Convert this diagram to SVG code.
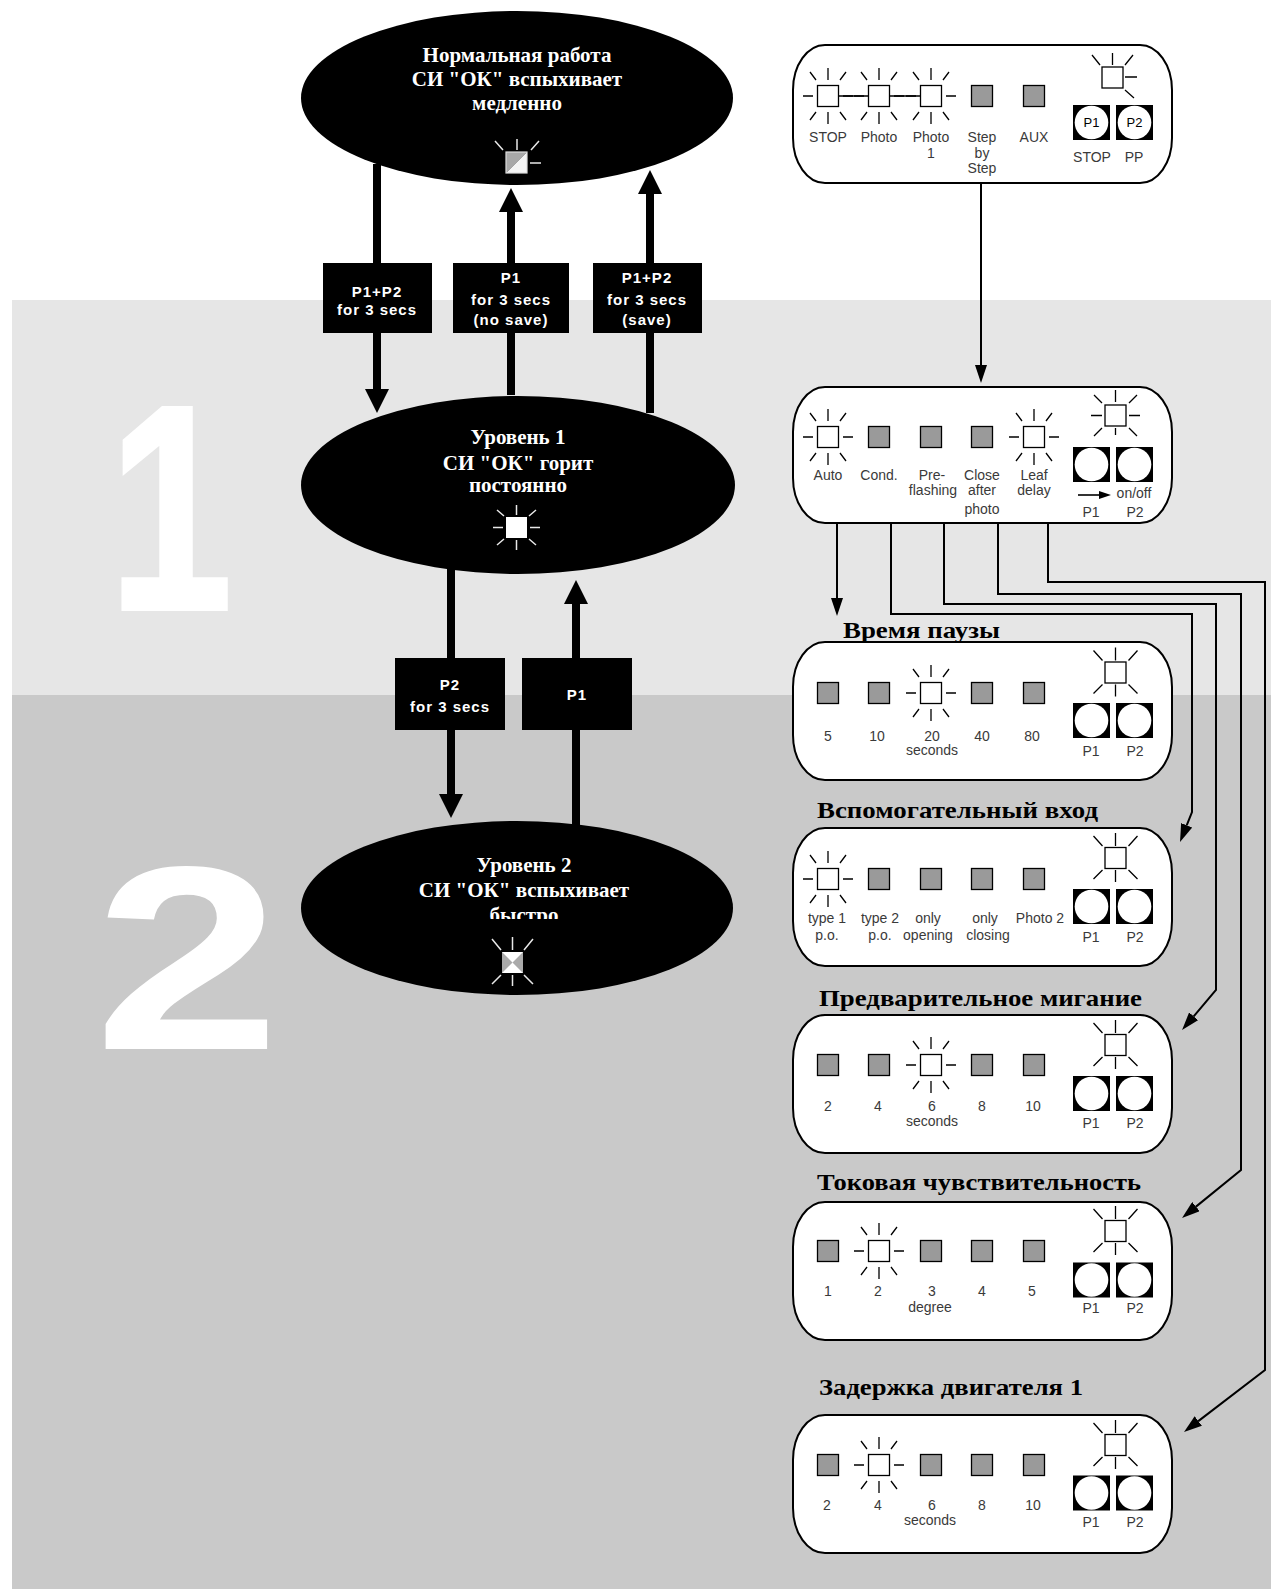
<svg xmlns="http://www.w3.org/2000/svg" width="1271" height="1589" viewBox="0 0 1271 1589">
<style>
.lbl{font-family:"Liberation Sans",Arial,sans-serif;font-size:14px;fill:#3a3a3a;text-anchor:middle}
.ttl{font-family:"Liberation Serif","Times New Roman",serif;font-weight:bold;font-size:23px;fill:#000}
.etx{font-family:"Liberation Serif","Times New Roman",serif;font-weight:bold;font-size:21px;fill:#fff;text-anchor:middle}
.btx{font-family:"Liberation Sans",Arial,sans-serif;font-weight:bold;font-size:15px;fill:#fff;text-anchor:middle;letter-spacing:1px}
.panel{fill:#fff;stroke:#000;stroke-width:2}
.on{fill:#fff;stroke:#000;stroke-width:1.3}
.off{fill:#9a9a9a;stroke:#000;stroke-width:1.3}
.ray{stroke:#000;stroke-width:1.3;fill:none}
.wray{stroke:#e8e8e8;stroke-width:1.5;fill:none}
.big{stroke:#000;stroke-width:8;fill:none}
.thin{stroke:#000;stroke-width:2;fill:none}
.box{fill:#000}
.digit{font-family:"Liberation Sans",Arial,sans-serif;font-weight:bold;fill:#fff}
</style>
<defs>
<marker id="bigHead" viewBox="0 -12 24 24" refX="0" refY="0" markerWidth="24" markerHeight="24" markerUnits="userSpaceOnUse" orient="auto"><path d="M0,-12 L24,0 L0,12 Z" fill="#000"/></marker>
<marker id="smallHead" viewBox="0 -6 18 12" refX="0" refY="0" markerWidth="18" markerHeight="12" markerUnits="userSpaceOnUse" orient="auto"><path d="M0,-6 L18,0 L0,6 Z" fill="#000"/></marker>
<g id="ledOn"><rect class="on" x="-10.5" y="-10.5" width="21" height="21"/><path class="ray" d="M0,-28V-16 M0,16V28 M-25,0H-15 M15,0H25 M-18,-24L-12,-16 M18,-24L12,-16 M-18,24L-12,16 M18,24L12,16"/></g>
<g id="ledOff"><rect class="off" x="-10.5" y="-10.5" width="21" height="21"/></g>
<g id="btn"><rect x="-18.5" y="-17.5" width="37" height="35" fill="#000"/><circle r="16.8" fill="#fff"/></g>
<g id="statX"><rect x="-10.5" y="-10.5" width="21" height="21" fill="#fff"/><path d="M-10.5,-10.5L0,0L-10.5,10.5Z M10.5,-10.5L0,0L10.5,10.5Z" fill="#aaa"/><rect class="on" x="-10.5" y="-10.5" width="21" height="21" fill="none"/><path class="ray" d="M0,-25V-12 M0,12V24 M-22,-22L-13,-12 M22,-22L13,-12 M-22,21L-13,12 M22,21L13,12"/></g>
<g id="panelShape"><rect class="panel" x="793" y="0" width="379" height="138" rx="32" ry="45"/></g>
</defs>

<rect x="0" y="0" width="1271" height="1589" fill="#fff"/>
<rect x="12" y="300" width="1259" height="395" fill="#e6e6e6"/>
<rect x="12" y="695" width="1259" height="894" fill="#c9c9c9"/>
<text class="digit" x="0" y="0" font-size="292" stroke="#fff" stroke-width="4" stroke-linejoin="miter" transform="translate(109,609) scale(0.76,1)">1</text>
<text class="digit" x="0" y="0" font-size="262" transform="translate(94,1049) scale(1.28,1)">2</text>

<g id="connectors">
<path class="big" d="M377,164 V389" marker-end="url(#bigHead)"/>
<path class="big" d="M511,395 V212" marker-end="url(#bigHead)"/>
<path class="big" d="M650,413 V194" marker-end="url(#bigHead)"/>
<path class="big" d="M451,568 V794" marker-end="url(#bigHead)"/>
<path class="big" d="M576,826 V604" marker-end="url(#bigHead)"/>
<path class="thin" d="M981,183 V365" marker-end="url(#smallHead)"/>
<path class="thin" d="M837,524 V598" marker-end="url(#smallHead)"/>
<path class="thin" d="M891,524 V614 H1192 V812 L1186.7,825.3" marker-end="url(#smallHead)"/>
<path class="thin" d="M944,524 V604 H1216 V990 L1193.7,1016.3" marker-end="url(#smallHead)"/>
<path class="thin" d="M998,524 V594 H1241 V1170 L1196,1206.6" marker-end="url(#smallHead)"/>
<path class="thin" d="M1048,524 V582 H1265 V1370 L1198.3,1421.1" marker-end="url(#smallHead)"/>
</g>

<g id="label-p1p2-3s">
<rect class="box" x="323" y="263" width="109" height="70"/>
<text class="btx" x="377" y="297">P1+P2</text>
<text class="btx" x="377" y="315">for 3 secs</text>
</g>
<g id="label-p1-nosave">
<rect class="box" x="453" y="263" width="116" height="70"/>
<text class="btx" x="511" y="283">P1</text>
<text class="btx" x="511" y="305">for 3 secs</text>
<text class="btx" x="511" y="325">(no save)</text>
</g>
<g id="label-p1p2-save">
<rect class="box" x="593" y="263" width="109" height="70"/>
<text class="btx" x="647" y="283">P1+P2</text>
<text class="btx" x="647" y="305">for 3 secs</text>
<text class="btx" x="647" y="325">(save)</text>
</g>
<g id="label-p2-3s">
<rect class="box" x="395" y="658" width="110" height="72"/>
<text class="btx" x="450" y="690">P2</text>
<text class="btx" x="450" y="712">for 3 secs</text>
</g>
<g id="label-p1">
<rect class="box" x="522" y="658" width="110" height="72"/>
<text class="btx" x="577" y="700">P1</text>
</g>

<g id="state-normal">
<ellipse cx="517" cy="98" rx="216" ry="87" fill="#000"/>
<text class="etx" x="517" y="62">Нормальная работа</text>
<text class="etx" x="517" y="86">СИ "ОК" вспыхивает</text>
<text class="etx" x="517" y="110">медленно</text>
<path d="M506,152 H527 L506,173 Z" fill="#a8a8a8"/>
<path d="M527,152 V173 H506 Z" fill="#f4f4f4"/>
<rect x="506" y="152" width="21" height="21" fill="none" stroke="#ddd" stroke-width="1.2"/>
<path class="wray" d="M517,139V150 M495,141L503,150 M539,141L531,150 M530,163H541"/>
</g>

<g id="state-level1">
<ellipse cx="518" cy="485" rx="217" ry="89" fill="#000"/>
<text class="etx" x="518" y="444">Уровень 1</text>
<text class="etx" x="518" y="470">СИ "ОК" горит</text>
<text class="etx" x="518" y="492">постоянно</text>
<rect x="506" y="517" width="21" height="21" fill="#fff"/>
<path class="wray" d="M516.5,505V515 M516.5,540V550 M493,527.5H503 M530,527.5H540 M497,510L504,516 M536,510L529,516 M497,545L504,539 M536,545L529,539"/>
</g>

<g id="state-level2">
<clipPath id="cutText"><rect x="300" y="800" width="440" height="119"/></clipPath>
<ellipse cx="517" cy="908" rx="216" ry="87" fill="#000"/>
<text class="etx" x="524" y="872">Уровень 2</text>
<text class="etx" x="524" y="897">СИ "ОК" вспыхивает</text>
<text class="etx" x="524" y="922" clip-path="url(#cutText)">быстро</text>
<rect x="502" y="952" width="21" height="21" fill="#fff"/>
<path d="M502,952L512.5,962.5L502,973Z M523,952L512.5,962.5L523,973Z" fill="#aaa"/>
<path class="wray" d="M512.5,937V950 M512.5,975V986 M492,939L501,950 M533,939L524,950 M492,984L501,975 M533,984L524,975"/>
</g>

<g id="panel-inputs" transform="translate(0,45)">
<use href="#panelShape"/>
<path class="ray" d="M838.5,51H868.5 M889.5,51H920.5"/>
<use href="#ledOn" x="828" y="51"/>
<use href="#ledOn" x="879" y="51"/>
<use href="#ledOn" x="931" y="51"/>
<use href="#ledOff" x="982" y="51"/>
<use href="#ledOff" x="1034" y="51"/>
<text class="lbl" x="828" y="97">STOP</text>
<text class="lbl" x="879" y="97">Photo</text>
<text class="lbl" x="931" y="97">Photo</text>
<text class="lbl" x="931" y="113">1</text>
<text class="lbl" x="982" y="97">Step</text>
<text class="lbl" x="982" y="113">by</text>
<text class="lbl" x="982" y="128">Step</text>
<text class="lbl" x="1034" y="97">AUX</text>
<path d="M1102,22 H1123 L1102,43 Z" fill="#9a9a9a"/>
<rect class="on" x="1102" y="22" width="21" height="21" fill="none"/>
<path class="ray" d="M1112.5,8V20 M1092,10L1100,20 M1133,10L1125,20 M1125,32H1137 M1125,45L1134,53"/>
<use href="#btn" x="1091.5" y="77.5"/>
<use href="#btn" x="1134.5" y="77.5"/>
<text class="lbl" x="1091.5" y="82" style="fill:#000;font-size:13px">P1</text>
<text class="lbl" x="1134.5" y="82" style="fill:#000;font-size:13px">P2</text>
<text class="lbl" x="1092" y="117">STOP</text>
<text class="lbl" x="1134" y="117">PP</text>
</g>

<g id="panel-level1" transform="translate(0,387)">
<rect class="panel" x="793" y="0" width="379" height="136" rx="32" ry="45"/>
<use href="#ledOn" x="828" y="50"/>
<use href="#ledOff" x="879" y="50"/>
<use href="#ledOff" x="931" y="50"/>
<use href="#ledOff" x="982" y="50"/>
<use href="#ledOn" x="1034" y="50"/>
<text class="lbl" x="828" y="93">Auto</text>
<text class="lbl" x="879" y="93">Cond.</text>
<text class="lbl" x="932" y="93">Pre-</text>
<text class="lbl" x="933" y="108">flashing</text>
<text class="lbl" x="982" y="93">Close</text>
<text class="lbl" x="982" y="108">after</text>
<text class="lbl" x="982" y="127">photo</text>
<text class="lbl" x="1034" y="93">Leaf</text>
<text class="lbl" x="1034" y="108">delay</text>
<rect class="on" x="1105" y="18" width="21" height="21"/>
<path class="ray" d="M1115.5,3V15 M1115.5,41V48 M1091,28.5H1102 M1129,28.5H1140 M1094,8L1102,16 M1137,8L1129,16 M1094,49L1102,41 M1137,49L1129,41"/>
<use href="#btn" x="1091.5" y="77.5"/>
<use href="#btn" x="1134.5" y="77.5"/>
<path d="M1078,108H1100" stroke="#000" stroke-width="1.6"/>
<path d="M1099,104L1111,108L1099,112Z" fill="#000"/>
<text class="lbl" x="1134" y="111">on/off</text>
<text class="lbl" x="1091" y="130">P1</text>
<text class="lbl" x="1135" y="130">P2</text>
</g>

<g id="panel-pause">
<text class="ttl" x="843" y="638" textLength="157" lengthAdjust="spacingAndGlyphs">Время паузы</text>
<g transform="translate(0,642)">
<use href="#panelShape"/>
<use href="#ledOff" x="828" y="51"/>
<use href="#ledOff" x="879" y="51"/>
<use href="#ledOn" x="931" y="51"/>
<use href="#ledOff" x="982" y="51"/>
<use href="#ledOff" x="1034" y="51"/>
<text class="lbl" x="828" y="99">5</text>
<text class="lbl" x="877" y="99">10</text>
<text class="lbl" x="932" y="99">20</text>
<text class="lbl" x="982" y="99">40</text>
<text class="lbl" x="1032" y="99">80</text>
<text class="lbl" x="932" y="113">seconds</text>
<use href="#statX" x="1115.5" y="30.5"/>
<use href="#btn" x="1091.5" y="78.5"/>
<use href="#btn" x="1134.5" y="78.5"/>
<text class="lbl" x="1091" y="114">P1</text>
<text class="lbl" x="1135" y="114">P2</text>
</g>
</g>

<g id="panel-aux">
<text class="ttl" x="817" y="818" textLength="281" lengthAdjust="spacingAndGlyphs">Вспомогательный вход</text>
<g transform="translate(0,828)">
<use href="#panelShape"/>
<use href="#ledOn" x="828" y="51"/>
<use href="#ledOff" x="879" y="51"/>
<use href="#ledOff" x="931" y="51"/>
<use href="#ledOff" x="982" y="51"/>
<use href="#ledOff" x="1034" y="51"/>
<text class="lbl" x="827" y="95">type 1</text>
<text class="lbl" x="880" y="95">type 2</text>
<text class="lbl" x="928" y="95">only</text>
<text class="lbl" x="985" y="95">only</text>
<text class="lbl" x="1040" y="95">Photo 2</text>
<text class="lbl" x="827" y="112">p.o.</text>
<text class="lbl" x="880" y="112">p.o.</text>
<text class="lbl" x="928" y="112">opening</text>
<text class="lbl" x="988" y="112">closing</text>
<use href="#statX" x="1115.5" y="30"/>
<use href="#btn" x="1091.5" y="78.5"/>
<use href="#btn" x="1134.5" y="78.5"/>
<text class="lbl" x="1091" y="114">P1</text>
<text class="lbl" x="1135" y="114">P2</text>
</g>
</g>

<g id="panel-preflash">
<text class="ttl" x="819" y="1006" textLength="323" lengthAdjust="spacingAndGlyphs">Предварительное мигание</text>
<g transform="translate(0,1015)">
<use href="#panelShape"/>
<use href="#ledOff" x="828" y="50"/>
<use href="#ledOff" x="879" y="50"/>
<use href="#ledOn" x="931" y="50"/>
<use href="#ledOff" x="982" y="50"/>
<use href="#ledOff" x="1034" y="50"/>
<text class="lbl" x="828" y="96">2</text>
<text class="lbl" x="878" y="96">4</text>
<text class="lbl" x="932" y="96">6</text>
<text class="lbl" x="982" y="96">8</text>
<text class="lbl" x="1033" y="96">10</text>
<text class="lbl" x="932" y="111">seconds</text>
<use href="#statX" x="1115.5" y="30"/>
<use href="#btn" x="1091.5" y="78.5"/>
<use href="#btn" x="1134.5" y="78.5"/>
<text class="lbl" x="1091" y="113">P1</text>
<text class="lbl" x="1135" y="113">P2</text>
</g>
</g>

<g id="panel-current">
<text class="ttl" x="817" y="1190" textLength="324" lengthAdjust="spacingAndGlyphs">Токовая чувствительность</text>
<g transform="translate(0,1202)">
<use href="#panelShape"/>
<use href="#ledOff" x="828" y="49"/>
<use href="#ledOn" x="879" y="49"/>
<use href="#ledOff" x="931" y="49"/>
<use href="#ledOff" x="982" y="49"/>
<use href="#ledOff" x="1034" y="49"/>
<text class="lbl" x="828" y="94">1</text>
<text class="lbl" x="878" y="94">2</text>
<text class="lbl" x="932" y="94">3</text>
<text class="lbl" x="982" y="94">4</text>
<text class="lbl" x="1032" y="94">5</text>
<text class="lbl" x="930" y="110">degree</text>
<use href="#statX" x="1115.5" y="29"/>
<use href="#btn" x="1091.5" y="78"/>
<use href="#btn" x="1134.5" y="78"/>
<text class="lbl" x="1091" y="111">P1</text>
<text class="lbl" x="1135" y="111">P2</text>
</g>
</g>

<g id="panel-leafdelay">
<text class="ttl" x="819" y="1395" textLength="264" lengthAdjust="spacingAndGlyphs">Задержка двигателя 1</text>
<g transform="translate(0,1415)">
<use href="#panelShape"/>
<use href="#ledOff" x="828" y="50"/>
<use href="#ledOn" x="879" y="50"/>
<use href="#ledOff" x="931" y="50"/>
<use href="#ledOff" x="982" y="50"/>
<use href="#ledOff" x="1034" y="50"/>
<text class="lbl" x="827" y="95">2</text>
<text class="lbl" x="878" y="95">4</text>
<text class="lbl" x="932" y="95">6</text>
<text class="lbl" x="982" y="95">8</text>
<text class="lbl" x="1033" y="95">10</text>
<text class="lbl" x="930" y="110">seconds</text>
<use href="#statX" x="1115.5" y="30"/>
<use href="#btn" x="1091.5" y="78"/>
<use href="#btn" x="1134.5" y="78"/>
<text class="lbl" x="1091" y="112">P1</text>
<text class="lbl" x="1135" y="112">P2</text>
</g>
</g>
</svg>
